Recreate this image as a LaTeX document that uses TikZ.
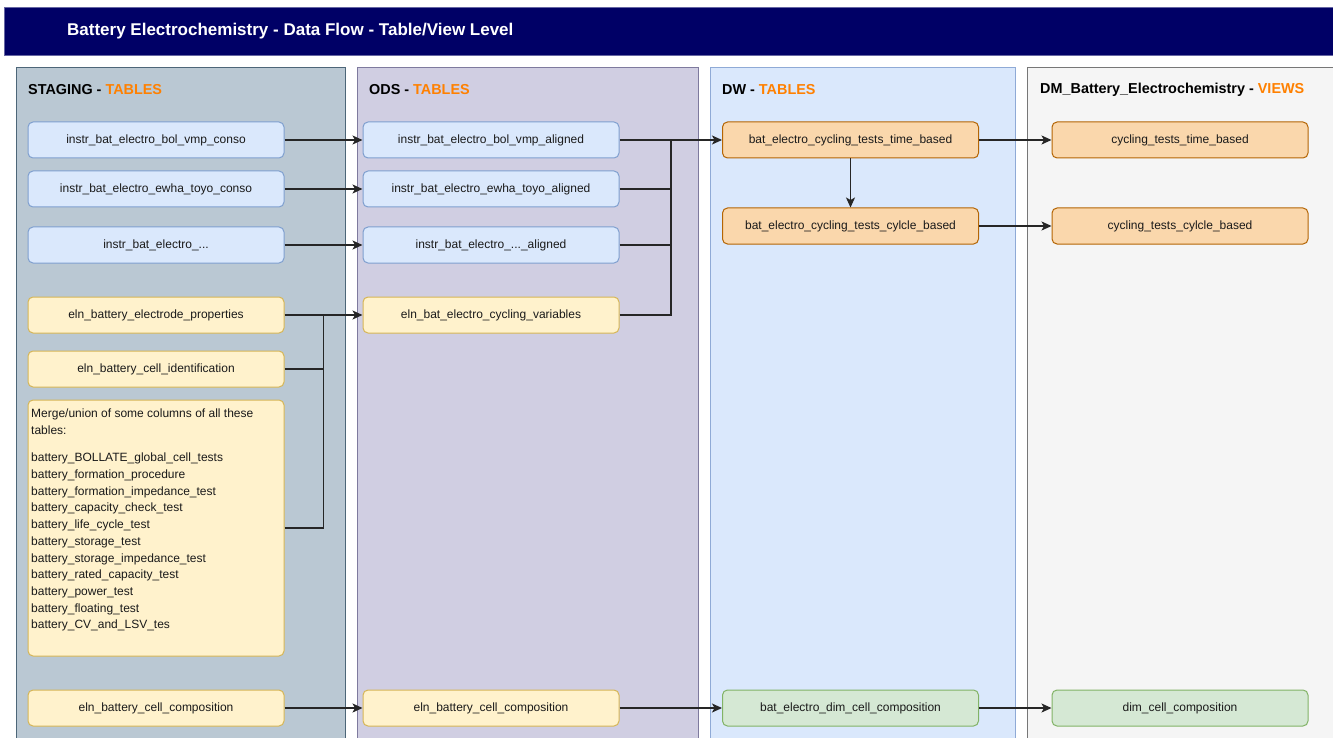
\documentclass[tikz,border=0pt]{standalone}
\usepackage{fontspec}
\setmainfont{Liberation Sans}
\usetikzlibrary{arrows.meta,calc}
\definecolor{navy}{HTML}{000066}
\definecolor{stgfill}{HTML}{BAC8D3}
\definecolor{stgdraw}{HTML}{4D6678}
\definecolor{odsfill}{HTML}{D0CEE2}
\definecolor{odsdraw}{HTML}{7E7A9E}
\definecolor{dwfill}{HTML}{DAE8FC}
\definecolor{dwdraw}{HTML}{8FAAD6}
\definecolor{dmfill}{HTML}{F5F5F5}
\definecolor{dmdraw}{HTML}{777777}
\definecolor{bluef}{HTML}{DAE8FC}
\definecolor{blued}{HTML}{7F9FCF}
\definecolor{yelf}{HTML}{FFF2CC}
\definecolor{yeld}{HTML}{D6B656}
\definecolor{orf}{HTML}{FAD7AC}
\definecolor{ord}{HTML}{B46504}
\definecolor{grf}{HTML}{D5E8D4}
\definecolor{grd}{HTML}{82B366}
\definecolor{hdorange}{HTML}{FF8000}
\definecolor{txt}{HTML}{1A1A1A}
\tikzset{
  x=1pt, y=-1pt,
  tbl/.style={rounded corners=5pt, line width=1pt, minimum width=256pt, minimum height=36pt,
    inner sep=0pt, font=\fontsize{12}{14}\selectfont, text=txt},
  bluebox/.style={tbl, fill=bluef, draw=blued},
  yelbox/.style={tbl, fill=yelf, draw=yeld},
  orbox/.style={tbl, fill=orf, draw=ord},
  grbox/.style={tbl, fill=grf, draw=grd},
  colbox/.style={line width=1pt},
  hdr/.style={anchor=west, font=\bfseries\fontsize{14.4}{16}\selectfont, inner sep=0pt},
  flow/.style={line width=1.2pt, draw=black!85, -{Stealth[length=10pt,width=9pt,inset=2.5pt]}},
  link/.style={line width=1.2pt, draw=black!85}
}
\begin{document}
\begin{tikzpicture}
\useasboundingbox (0,0) rectangle (1333,738);
\clip (0,0) rectangle (1333,738);
\fill[white] (0,0) rectangle (1333,738);
% title bar
\node[fill=navy, draw=navy!60!white, line width=0.8pt, minimum width=1329pt, minimum height=48pt, inner sep=0pt, anchor=north west] (title) at (4,7) {};
\node[anchor=west, text=white, font=\bfseries\fontsize{17}{19}\selectfont, inner sep=0pt] (ttext) at (67,31.5) {Battery Electrochemistry - Data Flow - Table/View Level};
% columns
\draw[colbox, fill=stgfill, draw=stgdraw] (16,68) rectangle (345,750);
\draw[colbox, fill=odsfill, draw=odsdraw] (357,68) rectangle (698,750);
\draw[colbox, fill=dwfill, draw=dwdraw] (710,68) rectangle (1015,750);
\draw[colbox, fill=dmfill, draw=dmdraw] (1027,68) rectangle (1345,750);
\node[hdr] (h1) at (28,89.5) {STAGING - \textcolor{hdorange}{TABLES}};
\node[hdr] (h2) at (369,89.5) {ODS - \textcolor{hdorange}{TABLES}};
\node[hdr] (h3) at (722,89.5) {DW - \textcolor{hdorange}{TABLES}};
\node[hdr] (h4) at (1040,89.5) {DM\_Battery\_Electrochemistry - \textcolor{hdorange}{VIEWS}};
% staging
\node[bluebox] (s1) at (156,140) {instr\_bat\_electro\_bol\_vmp\_conso};
\node[bluebox] (s2) at (156,189) {instr\_bat\_electro\_ewha\_toyo\_conso};
\node[bluebox] (s3) at (156,245) {instr\_bat\_electro\_{...}};
\node[yelbox] (s4) at (156,315) {eln\_battery\_electrode\_properties};
\node[yelbox] (s5) at (156,369) {eln\_battery\_cell\_identification};
\node[yelbox, minimum height=256pt] (merge) at (156,528) {};
\node[anchor=north west, inner sep=0pt, align=left, text=txt, font=\fontsize{12}{16.7}\selectfont] (mergetext) at (31,408.5) {Merge/union of some columns of all these\\tables:\\[11pt]battery\_BOLLATE\_global\_cell\_tests\\battery\_formation\_procedure\\battery\_formation\_impedance\_test\\battery\_capacity\_check\_test\\battery\_life\_cycle\_test\\battery\_storage\_test\\battery\_storage\_impedance\_test\\battery\_rated\_capacity\_test\\battery\_power\_test\\battery\_floating\_test\\battery\_CV\_and\_LSV\_tes};
\node[yelbox] (s7) at (156,708) {eln\_battery\_cell\_composition};
% ods
\node[bluebox] (o1) at (491,140) {instr\_bat\_electro\_bol\_vmp\_aligned};
\node[bluebox] (o2) at (491,189) {instr\_bat\_electro\_ewha\_toyo\_aligned};
\node[bluebox] (o3) at (491,245) {instr\_bat\_electro\_{...}\_aligned};
\node[yelbox] (o4) at (491,315) {eln\_bat\_electro\_cycling\_variables};
\node[yelbox] (o7) at (491,708) {eln\_battery\_cell\_composition};
% dw
\node[orbox] (w1) at (850.5,140) {bat\_electro\_cycling\_tests\_time\_based};
\node[orbox] (w2) at (850.5,226) {bat\_electro\_cycling\_tests\_cylcle\_based};
\node[grbox] (w7) at (850.5,708) {bat\_electro\_dim\_cell\_composition};
% dm
\node[orbox] (m1) at (1180,140) {cycling\_tests\_time\_based};
\node[orbox] (m2) at (1180,226) {cycling\_tests\_cylcle\_based};
\node[grbox] (m7) at (1180,708) {dim\_cell\_composition};
% connectors
\coordinate (j1) at (323.5,315);
\coordinate (j2) at (671,140);
\draw[flow] (s1) -- (o1);
\draw[flow] (s2) -- (o2);
\draw[flow] (s3) -- (o3);
\draw[flow] (s4) -- (o4);
\draw[link] (s5.east) -| (j1);
\draw[link] (merge.east) -| (j1);
\draw[flow] (o1) -- (w1);
\draw[link] (o2.east) -| (j2);
\draw[link] (o3.east) -| (j2);
\draw[link] (o4.east) -| (j2);
\draw[flow] (w1) -- (w2);
\draw[flow] (w1) -- (m1);
\draw[flow] (w2) -- (m2);
\draw[flow] (s7) -- (o7);
\draw[flow] (o7) -- (w7);
\draw[flow] (w7) -- (m7);
\end{tikzpicture}
\end{document}
